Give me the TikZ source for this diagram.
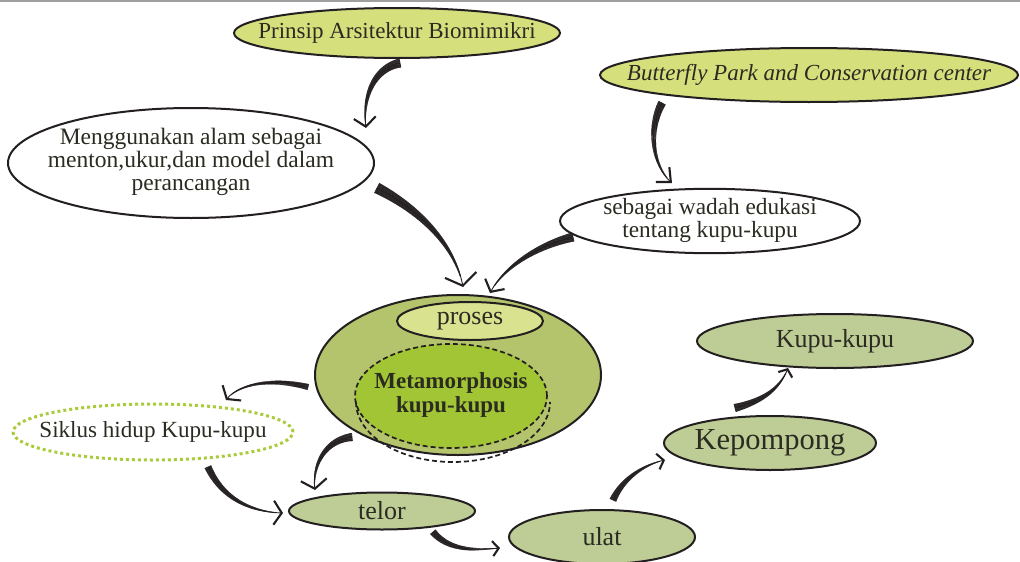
\documentclass[tikz,border=0pt]{standalone}
\usepackage{fontspec}
\setmainfont{Liberation Serif}
\usetikzlibrary{shapes.geometric,calc,arrows.meta,decorations.markings}
\definecolor{edgec}{HTML}{231F20}
\definecolor{txtc}{HTML}{2B2B22}
\definecolor{limec}{HTML}{D5E07D}
\definecolor{bigc}{HTML}{B4C46C}
\definecolor{prosc}{HTML}{D9E28F}
\definecolor{metac}{HTML}{A2C535}
\definecolor{sagec}{HTML}{BECC96}
\definecolor{dotc}{HTML}{AACC3C}
\tikzset{
  ell/.style={ellipse, draw=edgec, line width=2pt, inner sep=0pt, text=txtc},
  taper/.style n args={3}{draw=edgec, line width=0.9pt,
    -{Straight Barb[length=#2pt,width=#3pt,line width=2.1pt]},
    postaction={decorate, decoration={markings,
      mark=between positions 0 and 0.92 step 0.5pt with {%
        \pgfmathsetmacro\tw{#1*(1-\pgfkeysvalueof{/pgf/decoration/mark info/distance from start}/\pgfdecoratedpathlength)}%
        \fill[edgec] (-0.35pt,-\tw pt) rectangle (0.35pt,\tw pt);}}}},
  fs/.style={font=\fontsize{#1}{#1}\selectfont}
}
\begin{document}
\begin{tikzpicture}[x=1pt,y=-1pt]
\useasboundingbox (0,0) rectangle (1020,562);
\fill[white] (0,0) rectangle (1020,562);
\draw[draw=gray!75, line width=2pt] (0,1) -- (1020,1);

% top nodes
\node[ell, fill=limec, minimum width=326pt, minimum height=50pt, fs=23] (prinsip) at (397,33)
  {\makebox[0pt]{Prinsip Arsitektur Biomimikri}};
\node[ell, fill=limec, minimum width=418pt, minimum height=54pt, fs=23] (butterfly) at (809,75)
  {\makebox[0pt]{\itshape Butterfly Park and Conservation center}};
\node[ell, fill=white, minimum width=366pt, minimum height=110pt, font=\fontsize{23.5}{23}\selectfont] (mengg) at (191,163)
  {\makebox[0pt]{\begin{tabular}{@{}c@{}}Menggunakan alam sebagai\\menton,ukur,dan model dalam\\perancangan\end{tabular}}};
\node[ell, fill=white, minimum width=300pt, minimum height=62pt, font=\fontsize{23.3}{22}\selectfont] (wadah) at (710,221)
  {\makebox[0pt]{\begin{tabular}{@{}c@{}}sebagai wadah edukasi\\tentang kupu-kupu\end{tabular}}};

% central group
\node[ell, fill=bigc, minimum width=286pt, minimum height=160pt] (big) at (458,375) {};
\node[ell, fill=prosc, minimum width=146pt, minimum height=38pt, fs=26] (proses) at (470,321)
  {\makebox[0pt]{proses}};
\node[ellipse, draw=edgec, fill=metac, line width=1.7pt, dash pattern=on 5pt off 3pt, inner sep=0pt, text=txtc,
  minimum width=192pt, minimum height=104pt, font=\fontsize{23}{24}\selectfont\bfseries] (meta) at (451,396)
  {\makebox[0pt]{\begin{tabular}{@{}c@{}}Metamorphosis\\kupu-kupu\end{tabular}}};
\draw[draw=edgec, line width=1.7pt, dash pattern=on 5pt off 3pt] ($(meta)+(-95,6)$)
  arc[start angle=180, end angle=360, x radius=97pt, y radius=60pt];

% side
\node[ellipse, draw=dotc, line width=3pt, dash pattern=on 3pt off 3pt, inner sep=0pt, text=txtc,
  minimum width=280pt, minimum height=56pt, fs=23.1] (siklus) at (153,432)
  {\makebox[0pt]{Siklus hidup Kupu-kupu}};

% cycle
\node[ell, fill=sagec, minimum width=186pt, minimum height=37pt, fs=26] (telor) at (382,511) {\makebox[0pt]{telor}};
\node[ell, fill=sagec, minimum width=186pt, minimum height=54pt, fs=26] (ulat) at (602,537) {\makebox[0pt]{ulat}};
\node[ell, fill=sagec, minimum width=212pt, minimum height=54pt, fs=30.5] (kepompong) at (770,443) {\makebox[0pt]{Kepompong}};
\node[ell, fill=sagec, minimum width=276pt, minimum height=54pt, fs=26] (kupu) at (835,341) {\makebox[0pt]{Kupu-kupu}};

% connectors
\draw[taper={4.5}{9}{22}] ($(prinsip)+(3,30)$) .. controls +(-25,5) and +(-4,-33) .. ($(mengg)+(175,-35)$);
\draw[taper={4}{11}{20}] ($(butterfly)+(-147,28)$) .. controls +(-14,27) and +(-20,-18) .. ($(wadah)+(-38,-38)$);
\draw[taper={5.5}{11}{32}] ($(mengg)+(186,25)$) .. controls +(43,22) and +(-8,-42) .. ($(big)+(5,-88)$);
\draw[taper={4.5}{9}{22}] ($(wadah)+(-137,16)$) .. controls +(-33,8) and +(15,-28) .. ($(big)+(32,-82)$);
\draw[taper={4}{9}{26}] ($(big)+(-106,62)$) .. controls +(-27,3) and +(-3,-25) .. ($(telor)+(-67,-21)$);
\draw[taper={3.5}{6}{15}] ($(telor)+(51,21)$) .. controls +(17,20) and +(-22,2) .. ($(ulat)+(-102,11)$);
\draw[taper={3}{8}{24}] ($(big)+(-150,12)$) .. controls +(-36,-9) and +(14,-17) .. ($(siklus)+(73,-32)$);
\draw[taper={3.5}{8}{24}] ($(siklus)+(55,35)$) .. controls +(14,31) and +(-33,-1) .. ($(telor)+(-99,2)$);
\draw[taper={3.5}{6}{16}] ($(ulat)+(11,-37)$) .. controls +(9,-20) and +(-23,5) .. ($(kepompong)+(-105,17)$);
\draw[taper={4}{6}{15}] ($(kepompong)+(-35,-35)$) .. controls +(30,-8) and +(-8,20) .. ($(kupu)+(-47,27)$);
\end{tikzpicture}
\end{document}
